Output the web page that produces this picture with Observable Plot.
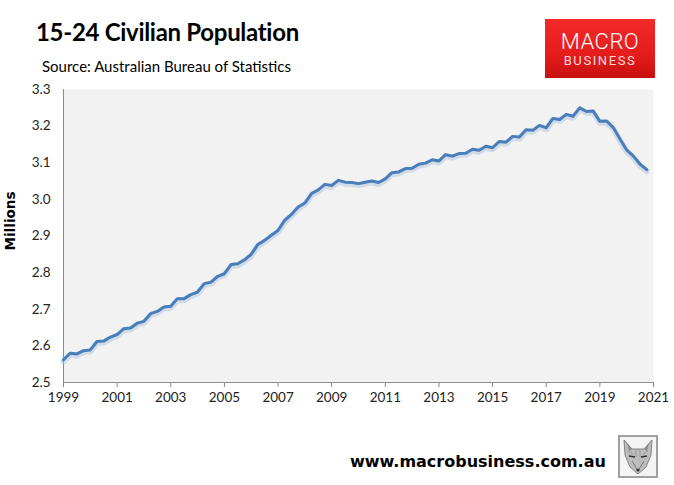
<!DOCTYPE html>
<html>
<head>
<meta charset="utf-8">
<script src="https://cdn.jsdelivr.net/npm/d3@7"></script>
<script src="https://cdn.jsdelivr.net/npm/@observablehq/plot@0.6"></script>
<style>
  html, body { margin: 0; padding: 0; background: #fff; }
  #wrap { position: relative; width: 674px; height: 485px; overflow: hidden; font-family: Lato, "Open Sans", sans-serif; }
  #title { position: absolute; left: 36px; top: 17px; font-size: 24px; font-weight: 700; color: #000; letter-spacing: -0.3px; }
  #subtitle { position: absolute; left: 42px; top: 57px; font-size: 15px; color: #000; }
  #ylabel { position: absolute; left: 10px; top: 221px; transform: translate(-50%, -50%) rotate(-90deg); white-space: nowrap;
            font-family: "DejaVu Sans", Verdana, sans-serif; font-weight: 700; font-size: 13.5px; color: #000; line-height: 15px; }
  #logo { position: absolute; left: 545px; top: 19px; width: 110px; height: 59px;
          background: linear-gradient(180deg, #f52a2a 0%, #e51c1c 60%, #c81010 100%); color: #fff; text-align: center; font-family: Roboto, sans-serif; }
  #logo .m { position: absolute; left: 0; right: 0; top: 12px; font-size: 22px; font-weight: 300; letter-spacing: 0.5px; line-height: 22px; }
  #logo .b { position: absolute; left: 0; right: 0; top: 35px; font-size: 13px; font-weight: 400; letter-spacing: 1.6px; line-height: 14px; color: #ffdcdc; }
  #footer { position: absolute; left: 350px; top: 454px; font-family: "DejaVu Sans", Verdana, sans-serif; font-size: 16px; line-height: 16px; font-weight: 700; color: #000; white-space: nowrap; }
  #fox { position: absolute; left: 618px; top: 435px; width: 36px; height: 39px; border: 2px solid #a0a0a0; background: #f4f4f4; }
  #chart { position: absolute; left: 0; top: 0; }
</style>
</head>
<body>
<div id="wrap">
  <div id="chart"></div>
  <div id="title">15-24 Civilian Population</div>
  <div id="subtitle">Source: Australian Bureau of Statistics</div>
  <div id="ylabel">Millions</div>
  <div id="logo"><div class="m">MACRO</div><div class="b">BUSINESS</div></div>
  <div id="footer">www.macrobusiness.com.au</div>
  <div id="fox">
    <svg width="36" height="39" viewBox="0 0 36 39">
      <polygon points="4,3 12,12 24,12 32,3 31,18 26,30 18,37 10,30 5,18" fill="#bdbdbd" stroke="#6e6e6e" stroke-width="0.8"/>
      <polygon points="7,6 12,12 9,14" fill="#8a8a8a"/>
      <polygon points="29,6 24,12 27,14" fill="#8a8a8a"/>
      <path d="M9,19 L15,20 M21,20 L27,19" stroke="#333" stroke-width="1.4"/>
      <path d="M12,24 L18,34 L24,24" fill="none" stroke="#777" stroke-width="1"/>
      <circle cx="18" cy="33" r="1.6" fill="#333"/>
      <path d="M8,14 L13,17 M28,14 L23,17 M16,13 L16,20 M20,13 L20,20" stroke="#888" stroke-width="0.7"/>
    </svg>
  </div>
</div>
<script>
// Quarterly 15-24 civilian population (millions), starting 1999 Q1
const startYear = 1999;
const values = [
  2.562, 2.580, 2.578, 2.587, 2.589, 2.612, 2.613, 2.624, 2.631, 2.647,
  2.649, 2.662, 2.667, 2.688, 2.694, 2.706, 2.708, 2.729, 2.729, 2.740,
  2.747, 2.770, 2.774, 2.790, 2.797, 2.822, 2.824, 2.835, 2.850, 2.877,
  2.888, 2.902, 2.915, 2.943, 2.959, 2.979, 2.990, 3.016, 3.026, 3.041,
  3.038, 3.052, 3.047, 3.046, 3.043, 3.047, 3.050, 3.046, 3.056, 3.073,
  3.075, 3.084, 3.085, 3.096, 3.099, 3.108, 3.105, 3.122, 3.118, 3.125,
  3.126, 3.137, 3.134, 3.145, 3.141, 3.158, 3.156, 3.172, 3.170, 3.190,
  3.189, 3.202, 3.195, 3.221, 3.218, 3.232, 3.227, 3.250, 3.240, 3.241,
  3.213, 3.214, 3.196, 3.165, 3.135, 3.118, 3.096, 3.081
];
const xTicks = [1999, 2001, 2003, 2005, 2007, 2009, 2011, 2013, 2015, 2017, 2019, 2021];
const yTicks = [2.5, 2.6, 2.7, 2.8, 2.9, 3.0, 3.1, 3.2, 3.3];

const data = values.map((v, i) => ({date: startYear + i / 4, value: v}));

const chart = Plot.plot({
  width: 674,
  height: 485,
  marginLeft: 63,
  marginRight: 21,
  marginTop: 89,
  marginBottom: 103,
  style: {fontFamily: "Lato, 'Open Sans', sans-serif", fontSize: "13px", color: "#222", background: "transparent"},
  x: {domain: [1999, 2021]},
  y: {domain: [2.5, 3.3]},
  marks: [
    Plot.frame({fill: "#f2f2f2", stroke: null}),
    Plot.axisY({ticks: yTicks, tickFormat: d3.format(".1f"), tickSize: 0, tickPadding: 13, label: null, fontSize: 13.5}),
    Plot.axisX({ticks: xTicks, tickFormat: d => String(d), tickSize: 5, tickPadding: 5, label: null, stroke: "#888", fontSize: 13.5}),
    Plot.ruleX([1999], {stroke: "#8c8c8c", strokeWidth: 1}),
    Plot.ruleY([2.5], {stroke: "#8c8c8c", strokeWidth: 1}),
    Plot.line(data, {x: "date", y: "value", stroke: "#a8bfdc", strokeWidth: 6, strokeOpacity: 0.45, dy: 1.5}),
    Plot.line(data, {x: "date", y: "value", stroke: "#4a7ebb", strokeWidth: 3, strokeLinejoin: "round"})
  ]
});
document.getElementById("chart").appendChild(chart);
</script>
</body>
</html>
